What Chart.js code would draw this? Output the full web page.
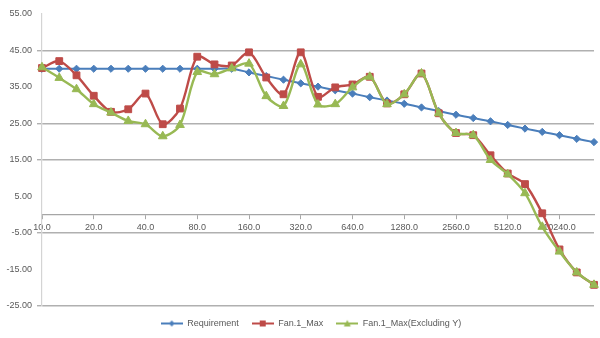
<!DOCTYPE html>
<html>
<head>
<meta charset="utf-8">
<script src="https://cdn.jsdelivr.net/npm/chart.js@4.4.1/dist/chart.umd.min.js"></script>
<style>
  html, body { margin: 0; padding: 0; background: #ffffff; }
  #wrap { width: 600px; height: 338px; position: relative; }
</style>
</head>
<body>
<div id="wrap"><canvas id="c"></canvas></div>
<script>
// 1/3-octave frequency bands (Hz)
const frequencies = [
  "10.0", "12.6", "15.9", "20.0", "25.2", "31.7", "40.0", "50.4", "63.5",
  "80.0", "100.8", "127.0", "160.0", "201.6", "254.0", "320.0", "403.2", "508.0",
  "640.0", "806.3", "1015.9", "1280.0", "1612.7", "2031.9", "2560.0", "3225.4", "4063.7",
  "5120.0", "6450.8", "8127.5", "10240.0", "12901.7", "16255.0"
];

const requirement = [
  40, 40, 40, 40, 40, 40, 40, 40, 40, 40, 40, 40,
  39.0, 38.0, 37.0, 36.0, 35.1, 34.1, 33.2, 32.2, 31.3, 30.4, 29.4,
  28.4, 27.4, 26.5, 25.6, 24.6, 23.6, 22.7, 21.8, 20.8, 19.9
];

const fanMax = [
  40.2, 42.1, 38.2, 32.6, 28.2, 28.9, 33.2, 24.8, 29.1, 43.3,
  41.2, 40.9, 44.5, 37.6, 33.0, 44.5, 32.3, 34.9, 35.7, 37.8,
  30.5, 33.0, 38.7, 27.8, 22.4, 21.8, 16.3, 11.3, 8.4, 0.4, -9.5, -15.8, -19.2
];

const fanMaxExclY = [
  40.4, 37.5, 34.4, 30.3, 28.0, 25.7, 24.8, 21.5, 24.6, 39.1,
  38.5, 40.1, 41.4, 32.5, 29.8, 41.2, 30.2, 30.3, 34.9, 37.8,
  30.3, 33.0, 38.7, 27.8, 22.4, 21.8, 15.0, 11.1, 5.9, -3.3, -10.1, -15.8, -19.2
];

const yMin = -25;
const yMax = 55;
const yStep = 10;
const visibleGridLines = [45, 25, 15, -5, -25];

const seriesNames = ["Requirement", "Fan.1_Max", "Fan.1_Max(Excluding Y)"];
const seriesColors = ["#4a7ebb", "#be4b48", "#98b954"];
const seriesMarkers = ["rectRot", "rect", "triangle"];
const markerRadius = [3.6, 4.8, 5];

const FONT = "'Liberation Sans', Arial, sans-serif";
const TEXT = "#595959";

// Small swatch: a line segment with the series marker in the middle
function legendSwatch(color, marker) {
  const cv = document.createElement("canvas");
  cv.width = 22; cv.height = 10;
  const g = cv.getContext("2d");
  g.strokeStyle = color; g.lineWidth = 2;
  g.beginPath(); g.moveTo(0, 5); g.lineTo(22, 5); g.stroke();
  g.fillStyle = color;
  if (marker === "rectRot") {
    g.beginPath(); g.moveTo(11, 2); g.lineTo(14, 5); g.lineTo(11, 8); g.lineTo(8, 5); g.closePath(); g.fill();
  } else if (marker === "rect") {
    g.fillRect(8, 2, 6, 6);
  } else {
    g.beginPath(); g.moveTo(11, 1.5); g.lineTo(14.5, 8); g.lineTo(7.5, 8); g.closePath(); g.fill();
  }
  return cv;
}

// Nudge the legend so it sits centred under the plot rather than the canvas
const legendShift = {
  id: "legendShift",
  afterLayout(chart) {
    if (chart.legend) { chart.legend.left += 12; chart.legend.right += 12; }
  }
};

const seriesData = [requirement, fanMax, fanMaxExclY];
const datasets = seriesData.map((d, i) => ({
  label: seriesNames[i],
  data: d,
  borderColor: seriesColors[i],
  backgroundColor: seriesColors[i],
  borderWidth: i === 0 ? 2 : 2.4,
  pointStyle: seriesMarkers[i],
  pointRadius: markerRadius[i],
  pointBorderWidth: 1,
  pointBorderColor: seriesColors[i],
  pointBackgroundColor: seriesColors[i],
  tension: 0.3,
  order: 3 - i,
  clip: false
}));

new Chart(document.getElementById("c"), {
  type: "line",
  data: { labels: frequencies, datasets: datasets },
  plugins: [legendShift],
  options: {
    responsive: true,
    maintainAspectRatio: false,
    animation: false,
    devicePixelRatio: 1,
    layout: { padding: { left: 0, right: 2, top: 14, bottom: 0 } },
    plugins: {
      tooltip: { enabled: false },
      legend: {
        position: "bottom",
        labels: {
          usePointStyle: true,
          pointStyleWidth: 22,
          padding: 13,
          color: TEXT,
          font: { family: FONT, size: 9 },
          generateLabels: (chart) => chart.data.datasets.map((ds, i) => ({
            text: ds.label,
            datasetIndex: i,
            fontColor: TEXT,
            pointStyle: legendSwatch(seriesColors[i], seriesMarkers[i]),
            lineWidth: 0,
            hidden: false
          }))
        }
      }
    },
    scales: {
      x: {
        type: "category",
        position: { y: 0 },
        offset: false,
        grid: { drawOnChartArea: false, drawTicks: true, tickLength: 4, color: "#a6a6a6" },
        border: { display: true, color: "#a6a6a6", width: 1.2 },
        ticks: {
          autoSkip: false,
          maxRotation: 0,
          padding: 3,
          color: TEXT,
          font: { family: FONT, size: 9 },
          callback: function (v, i) { return i % 3 === 0 ? this.getLabelForValue(v) : null; }
        }
      },
      y: {
        min: yMin,
        max: yMax,
        afterFit: (s) => { s.width = 42; },
        grid: {
          color: (ctx) => visibleGridLines.includes(ctx.tick && ctx.tick.value) ? "#b0b0b0" : "rgba(0,0,0,0)",
          lineWidth: 1.4,
          tickLength: 5
        },
        border: { display: true, color: "#d4d4d4", width: 1.2 },
        ticks: {
          stepSize: yStep,
          padding: 5,
          color: TEXT,
          font: { family: FONT, size: 9 },
          callback: (v) => Number(v).toFixed(2)
        }
      }
    }
  }
});
</script>
</body>
</html>
